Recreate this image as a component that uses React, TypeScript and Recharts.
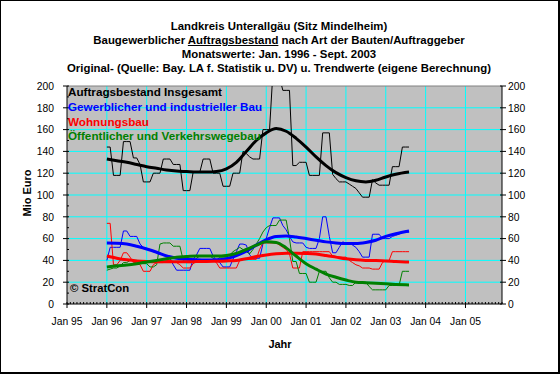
import { LineChart, Line, XAxis, YAxis, CartesianGrid, ReferenceLine } from 'recharts'

// months counted from Jan 95 (= 0); monthly values start Jan 96
const firstMonth = 12

const insgesamt = [
  144, 144, 118, 118, 118, 149, 149, 149, 134, 134, 128, 112,
  112, 112, 120, 120, 120, 133, 133, 133, 128, 128, 128, 104,
  104, 104, 121, 121, 121, 133, 133, 133, 120, 120, 120, 108,
  108, 108, 120, 120, 120, 140, 138, 135, 133, 133, 133, 160,
  160, 160, 212, 215, 208, 196, 196, 196, 127, 127, 130, 130,
  130, 118, 118, 118, 118, 157, 157, 157, 119, 115, 112, 112,
  112, 110, 108, 106, 102, 98, 98, 98, 114, 111, 109, 109,
  109, 109, 126, 126, 126, 144, 144, 144,
]
const gewerbe = [
  40, 52, 52, 52, 52, 67, 67, 62, 62, 62, 55, 52,
  51, 50, 48, 47, 47, 45, 44, 42, 36, 31, 31, 31,
  31, 31, 41, 45, 51, 51, 51, 51, 44, 40, 38, 34,
  34, 34, 41, 48, 55, 55, 54, 45, 42, 42, 42, 55,
  60, 70, 79, 79, 79, 72, 68, 62, 57, 56, 56, 56,
  52, 51, 51, 51, 60, 80, 80, 62, 47, 47, 52, 57,
  56, 56, 54, 52, 48, 43, 43, 43, 64, 64, 64, 60,
  60, 60, 62, 63, 64, 66, 66, 66,
]
const wohnung = [
  74, 74, 36, 36, 40, 47, 47, 43, 38, 38, 36, 30,
  30, 30, 36, 38, 38, 38, 40, 40, 39, 38, 36, 33,
  33, 33, 37, 39, 40, 40, 40, 40, 40, 38, 33, 33,
  33, 33, 33, 33, 40, 41, 41, 41, 41, 41, 50, 56,
  56, 56, 56, 56, 54, 52, 50, 46, 33, 33, 33, 48,
  48, 48, 48, 48, 48, 48, 48, 48, 44, 43, 43, 43,
  43, 40, 38, 36, 35, 33, 33, 33, 32, 32, 32, 38,
  40, 40, 48, 48, 48, 48, 48, 48,
]
const oeffentlich = [
  31, 32, 33, 33, 35, 38, 38, 40, 40, 40, 38, 37,
  37, 34, 34, 36, 55, 56, 56, 56, 53, 53, 53, 40,
  38, 38, 38, 42, 44, 44, 44, 44, 42, 40, 43, 43,
  43, 45, 48, 50, 52, 50, 48, 46, 50, 55, 60, 66,
  70, 72, 72, 72, 77, 77, 77, 60, 39, 39, 28, 28,
  28, 20, 20, 20, 30, 30, 30, 24, 20, 20, 18, 18,
  18, 17, 17, 20, 20, 20, 20, 16, 13, 13, 13, 13,
  13, 17, 17, 17, 17, 30, 30, 30,
]

const trendMonths = [12, 15, 18, 21, 24, 27, 30, 33, 36, 39, 42, 45, 48, 51, 54, 57, 60, 63, 66, 69, 72, 75, 78, 81, 84, 87, 90, 93, 96, 99, 103]
const insgesamtTrend = [133, 131.5, 130, 128, 126, 124.5, 123, 122, 121.5, 121, 121, 121.5, 124, 130, 140, 150, 157, 161, 158.5, 152, 144, 135, 127, 120.5, 116, 113, 112, 113.5, 116.5, 119, 121]
const gewerbeTrend = [56, 55.8, 55, 53, 50.5, 47.5, 44, 42, 41, 40.5, 40.3, 40.5, 41.5, 44.5, 48.5, 54, 59, 62, 62.5, 61.5, 60, 58.5, 57, 56, 55.5, 55.5, 56.5, 58.5, 62, 64.5, 67]
const wohnungTrend = [44, 42, 40.5, 39.5, 39, 38.8, 38.8, 38.8, 38.8, 38.9, 39, 39.2, 39.5, 40, 41.5, 43.5, 45, 46, 46.5, 46.5, 46.3, 45.8, 44.5, 43, 41.5, 40.5, 40, 39.8, 39.5, 39, 38.5]
const oeffentlichTrend = [34, 35, 35.8, 37, 38.5, 40, 41.5, 43, 43.5, 44, 44, 44, 44.5, 46.5, 50, 54, 57, 56.5, 51.5, 44, 37, 32, 27.5, 24.5, 22, 20, 19.5, 19, 18.5, 18, 17.5]

const yearTicks = [0, 12, 24, 36, 48, 60, 72, 84, 96, 108, 120]
const yearLabels = ['Jan 95', 'Jan 96', 'Jan 97', 'Jan 98', 'Jan 99', 'Jan 00', 'Jan 01', 'Jan 02', 'Jan 03', 'Jan 04', 'Jan 05']
const valueTicks = [0, 20, 40, 60, 80, 100, 120, 140, 160, 180, 200]
const minorValueTicks = [0, 10, 20, 30, 40, 50, 60, 70, 80, 90, 100, 110, 120, 130, 140, 150, 160, 170, 180, 190, 200]
const monthTicks = Array.from({ length: 132 }, (_, i) => i)

const data = insgesamt.map((v, i) => {
  const m = firstMonth + i
  const t = trendMonths.indexOf(m)
  return {
    m,
    total: v,
    gew: gewerbe[i],
    wohn: wohnung[i],
    oeff: oeffentlich[i],
    totalT: t >= 0 ? insgesamtTrend[t] : undefined,
    gewT: t >= 0 ? gewerbeTrend[t] : undefined,
    wohnT: t >= 0 ? wohnungTrend[t] : undefined,
    oeffT: t >= 0 ? oeffentlichTrend[t] : undefined,
  }
})

const font = '"Liberation Sans", Arial, sans-serif'

function MonthTick(props: any) {
  const { x, y, payload } = props
  const yi = yearTicks.indexOf(payload.value)
  if (yi < 0) return <line x1={x} x2={x} y1={y} y2={y - 2} stroke="#000" />
  return (
    <g>
      <line x1={x} x2={x} y1={y - 2} y2={y + 4} stroke="#000" />
      <text x={x} y={y + 21} textAnchor="middle" fontSize={10.3} fontFamily={font} fill="#000">
        {yearLabels[yi]}
      </text>
    </g>
  )
}

function ValueTick(props: any) {
  const { x, y, payload, side } = props
  const major = valueTicks.includes(payload.value)
  const dir = side === 'left' ? -1 : 1
  if (!major) return <line x1={x} x2={x - dir * 2} y1={y} y2={y} stroke="#000" />
  return (
    <g>
      <line x1={x - dir * 2} x2={x + dir * 4} y1={y} y2={y} stroke="#000" />
      <text
        x={x + dir * (side === 'left' ? 13 : 6)}
        y={y + 3.7}
        textAnchor={side === 'left' ? 'end' : 'start'}
        fontSize={10.3}
        fontFamily={font}
        fill="#000"
      >
        {payload.value}
      </text>
    </g>
  )
}

const legend = [
  { label: 'Auftragsbestand Insgesamt', color: '#000000' },
  { label: 'Gewerblicher und industrieller Bau', color: '#0000FF' },
  { label: 'Wohnungsbau', color: '#FF0000' },
  { label: 'Öffentlicher und Verkehrswegebau', color: '#008000' },
]

export default function App() {
  const thin = { dot: false, isAnimationActive: false, strokeWidth: 1, type: 'linear' as const }
  const thick = { dot: false, isAnimationActive: false, strokeWidth: 3, type: 'monotone' as const, connectNulls: true }
  return (
    <div style={{ position: 'relative', width: 560, height: 374, background: '#fff', fontFamily: font }}>
      <style>{'body{margin:0}'}</style>
      <LineChart width={560} height={374} data={data} margin={{ top: 86, right: 0, bottom: 40, left: 0 }}>
        <CartesianGrid horizontal={false} vertical={false} fill="#C0C0C0" />
        {yearTicks.slice(1).map((t) => (
          <ReferenceLine key={'v' + t} x={t} stroke="#00FFFF" strokeWidth={1} />
        ))}
        {valueTicks.slice(1, -1).map((t) => (
          <ReferenceLine key={'h' + t} y={t} stroke="#00FFFF" strokeWidth={1} />
        ))}
        <ReferenceLine y={200} stroke="#808080" strokeWidth={1} />
        <XAxis
          dataKey="m"
          type="number"
          domain={[0, 131]}
          ticks={monthTicks}
          interval={0}
          tick={<MonthTick />}
          tickLine={false}
          tickSize={0}
          tickMargin={0}
          height={30}
          axisLine={{ stroke: '#000' }}
        />
        <YAxis
          domain={[0, 200]}
          ticks={minorValueTicks}
          interval={0}
          allowDataOverflow
          width={67}
          tickSize={0}
          tickMargin={0}
          tick={<ValueTick side="left" />}
          tickLine={false}
          axisLine={{ stroke: '#000' }}
        />
        <YAxis
          yAxisId="r"
          orientation="right"
          domain={[0, 200]}
          ticks={valueTicks}
          interval={0}
          allowDataOverflow
          width={58}
          tickSize={0}
          tickMargin={0}
          tick={<ValueTick side="right" />}
          tickLine={false}
          axisLine={{ stroke: '#000' }}
        />
        <Line dataKey="total" stroke="#000000" {...thin} />
        <Line dataKey="gew" stroke="#0000FF" {...thin} />
        <Line dataKey="wohn" stroke="#FF0000" {...thin} />
        <Line dataKey="oeff" stroke="#008000" {...thin} />
        <Line dataKey="totalT" stroke="#000000" {...thick} />
        <Line dataKey="gewT" stroke="#0000FF" {...thick} />
        <Line dataKey="wohnT" stroke="#FF0000" {...thick} />
        <Line dataKey="oeffT" stroke="#008000" {...thick} />
      </LineChart>

      <div style={{ position: 'absolute', left: 0, top: 18.5, width: 558, textAlign: 'center', fontWeight: 'bold', fontSize: 11.4, lineHeight: '14.3px', color: '#000' }}>
        <div>Landkreis Unterallgäu (Sitz Mindelheim)</div>
        <div>
          Baugewerblicher <span style={{ textDecoration: 'underline' }}>Auftragsbestand</span> nach Art der Bauten/Auftraggeber
        </div>
        <div>Monatswerte: Jan. 1996 - Sept. 2003</div>
        <div>Original- (Quelle: Bay. LA f. Statistik u. DV) u. Trendwerte (eigene Berechnung)</div>
      </div>

      <div style={{ position: 'absolute', left: 68, top: 85.3, fontWeight: 'bold', fontSize: 11.7, lineHeight: '14.7px' }}>
        {legend.map((l) => (
          <div key={l.label} style={{ color: l.color, whiteSpace: 'nowrap' }}>{l.label}</div>
        ))}
      </div>

      <div style={{ position: 'absolute', left: 70, top: 281, fontWeight: 'bold', fontSize: 11.3, lineHeight: '14px' }}>© StratCon</div>

      <div style={{ position: 'absolute', left: 27, top: 193, transform: 'translate(-50%, -50%) rotate(-90deg)', fontWeight: 'bold', fontSize: 11, whiteSpace: 'nowrap' }}>
        Mio Euro
      </div>
      <div style={{ position: 'absolute', left: 0, width: 560, top: 337, textAlign: 'center', fontWeight: 'bold', fontSize: 11, lineHeight: '14px' }}>
        Jahr
      </div>

      <div style={{ position: 'absolute', left: 0, top: 0, width: 560, height: 374, boxSizing: 'border-box', borderStyle: 'solid', borderColor: '#000', borderWidth: '1px 2px 2px 1px', pointerEvents: 'none' }} />
    </div>
  )
}
